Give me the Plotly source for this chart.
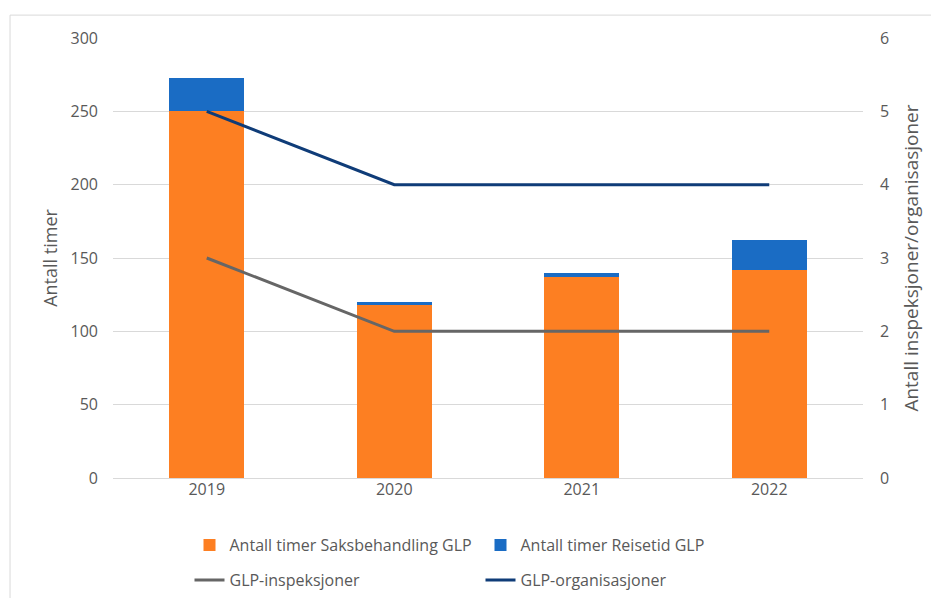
import plotly.graph_objects as go

years = ["2019", "2020", "2021", "2022"]
saksbehandling = [250, 118, 137, 142]
reisetid = [23, 2, 3, 20]
inspeksjoner = [3, 2, 2, 2]
organisasjoner = [5, 4, 4, 4]

FONT = "Open Sans"
TXT = "#595959"

fig = go.Figure()
fig.add_trace(go.Bar(x=years, y=saksbehandling, name="Antall timer Saksbehandling GLP",
                     marker=dict(color="#FD7F22", line=dict(width=0)), legend="legend"))
fig.add_trace(go.Bar(x=years, y=reisetid, name="Antall timer Reisetid GLP",
                     marker=dict(color="#1A6CC4", line=dict(width=0)), legend="legend"))
fig.add_trace(go.Scatter(x=years, y=inspeksjoner, name="GLP-inspeksjoner", mode="lines",
                         line=dict(color="#666666", width=3), yaxis="y2", legend="legend2"))
fig.add_trace(go.Scatter(x=years, y=organisasjoner, name="GLP-organisasjoner", mode="lines",
                         line=dict(color="#0F3C78", width=3), yaxis="y2", legend="legend2"))

legend_common = dict(orientation="h", x=0.102, xanchor="left", yanchor="middle",
                     yref="container",
                     entrywidth=246, entrywidthmode="pixels", traceorder="normal",
                     font=dict(size=16, color=TXT), bgcolor="rgba(0,0,0,0)")

fig.update_layout(
    width=939, height=598,
    barmode="stack", bargap=0.6,
    plot_bgcolor="white", paper_bgcolor="white",
    margin=dict(l=105, r=84, t=30, b=128),
    font=dict(family=FONT, size=16, color=TXT),
    xaxis=dict(showgrid=False, showline=False, ticks="", tickfont=dict(size=16, color=TXT)),
    yaxis=dict(range=[0, 300], dtick=50, showgrid=True, gridcolor="#D9D9D9", gridwidth=1,
               zeroline=True, zerolinecolor="#D9D9D9", zerolinewidth=1,
               title=dict(text="Antall timer", font=dict(size=18, color=TXT), standoff=8),
               tickfont=dict(size=16, color=TXT), ticks="", ticklabelstandoff=14),
    yaxis2=dict(range=[0, 6], dtick=1, overlaying="y", side="right", showgrid=False,
                zeroline=False,
                title=dict(text="Antall inspeksjoner/organisasjoner", font=dict(size=19, color=TXT), standoff=16),
                tickfont=dict(size=16, color=TXT), ticks="", ticklabelstandoff=16),
    legend=dict(legend_common, y=0.102),
    legend2=dict(legend_common, y=0.0435),
    showlegend=True,
    shapes=[
        dict(type="line", xref="paper", yref="paper", x0=-0.1373, x1=1.2, y0=1.052, y1=1.052,
             line=dict(color="#D9D9D9", width=1)),
        dict(type="line", xref="paper", yref="paper", x0=-0.1373, x1=-0.1373, y0=1.052, y1=-0.35,
             line=dict(color="#D9D9D9", width=1)),
    ],
)

fig.write_html("out.html")
